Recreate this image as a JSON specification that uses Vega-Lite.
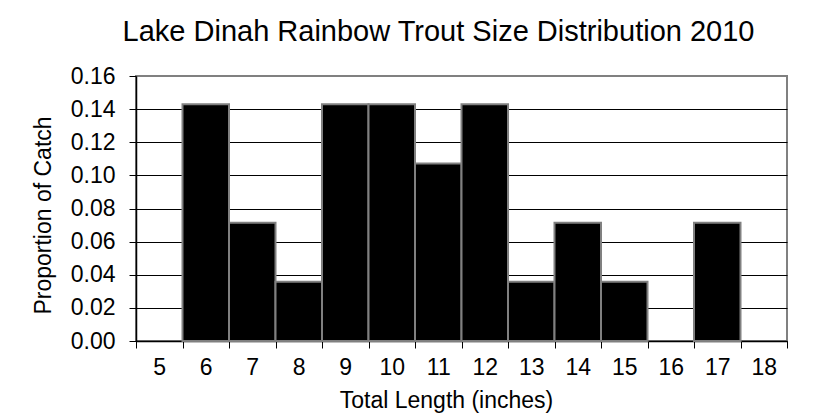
{
  "$schema": "https://vega.github.io/schema/vega-lite/v6.json",
  "autosize": "none",
  "width": 651,
  "height": 265,
  "padding": {"left": 136, "top": 76, "right": 36, "bottom": 75},
  "background": "white",
  "config": {
    "font": "Liberation Sans",
    "view": {"stroke": "#808080", "strokeWidth": 2}
  },
  "title": {
    "text": "Lake Dinah Rainbow Trout Size Distribution 2010",
    "font": "Liberation Sans",
    "fontSize": 29,
    "fontWeight": "normal",
    "color": "#000000",
    "anchor": "middle",
    "frame": "group",
    "baseline": "alphabetic",
    "offset": -5,
    "dx": -23
  },
  "data": {
    "values": [
      {"len": 5, "p": 0},
      {"len": 6, "p": 0.1429},
      {"len": 7, "p": 0.0714},
      {"len": 8, "p": 0.0357},
      {"len": 9, "p": 0.1429},
      {"len": 10, "p": 0.1429},
      {"len": 11, "p": 0.1071},
      {"len": 12, "p": 0.1429},
      {"len": 13, "p": 0.0357},
      {"len": 14, "p": 0.0714},
      {"len": 15, "p": 0.0357},
      {"len": 16, "p": 0},
      {"len": 17, "p": 0.0714},
      {"len": 18, "p": 0}
    ]
  },
  "mark": {"type": "bar", "fill": "#000000", "stroke": "#808080", "strokeWidth": 2},
  "encoding": {
    "x": {
      "field": "len",
      "type": "ordinal",
      "scale": {"paddingInner": 0, "paddingOuter": 0},
      "axis": {
        "title": "Total Length (inches)",
        "titleFont": "Liberation Sans",
        "titleFontSize": 23,
        "titleFontWeight": "normal",
        "titleColor": "#000000",
        "titleX": 310,
        "titleY": 66,
        "titleAlign": "center",
        "titleBaseline": "alphabetic",
        "labelAngle": 0,
        "labelFont": "Liberation Sans",
        "labelFontSize": 23,
        "labelColor": "#000000",
        "labelPadding": 8,
        "tickBand": "extent",
        "tickSize": 7,
        "tickColor": "#000000",
        "domainColor": "#000000",
        "domainWidth": 1.5,
        "grid": false
      }
    },
    "y": {
      "field": "p",
      "type": "quantitative",
      "scale": {"domain": [0, 0.16], "nice": false},
      "axis": {
        "title": "Proportion of Catch",
        "titleFont": "Liberation Sans",
        "titleFontSize": 23,
        "titleFontWeight": "normal",
        "titleColor": "#000000",
        "titleAngle": -90,
        "titleX": -86,
        "titleY": 139,
        "titleAlign": "center",
        "titleBaseline": "alphabetic",
        "values": [0, 0.02, 0.04, 0.06, 0.08, 0.1, 0.12, 0.14, 0.16],
        "format": ".2f",
        "labelFont": "Liberation Sans",
        "labelFontSize": 23,
        "labelColor": "#000000",
        "labelPadding": 14,
        "tickSize": 7,
        "tickColor": "#000000",
        "domainColor": "#000000",
        "domainWidth": 1.5,
        "grid": true,
        "gridColor": {"condition": {"test": "datum.value >= 0.16", "value": "#808080"}, "value": "#000000"},
        "gridWidth": 1
      }
    },
    "strokeOpacity": {"condition": {"test": "datum.p == 0", "value": 0}, "value": 1}
  }
}
